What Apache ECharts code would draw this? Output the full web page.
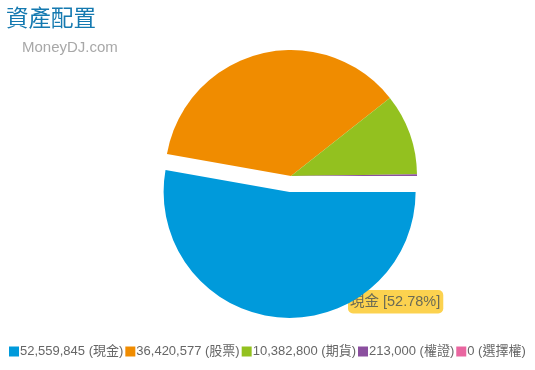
<!DOCTYPE html>
<html><head><meta charset="utf-8">
<script src="https://cdn.jsdelivr.net/npm/echarts@6/dist/echarts.min.js"></script>
<style>html,body{margin:0;padding:0;background:#fff}#c{width:535px;height:370px}</style>
</head><body><div id="c"></div>
<script>
var names = ['現金', '股票', '期貨', '權證', '選擇權'];
var values = [52559845, 36420577, 10382800, 213000, 0];
var colors = ['#009ADB', '#F08C00', '#93C11F', '#8B4F9F', '#E966A0'];

var total = values.reduce(function(a,b){return a+b;},0);
function fmt(n){return n.toString().replace(/\B(?=(\d{3})+(?!\d))/g, ',');}
var pct0 = (values[0]/total*100).toFixed(2);

var data = names.map(function(n,i){
  return {name: n, value: values[i], selected: i===0, itemStyle:{color: colors[i]}};
});

var chart = echarts.init(document.getElementById('c'), null, {renderer:'canvas'});
chart.setOption({
  animation: false,
  title: [
    {text: '資產配置', left: 1, top: 1, textStyle:{fontSize: 22.5, fontWeight:'normal', color:'#1479B0', fontFamily:'Noto Sans CJK TC'}},
    {text: 'MoneyDJ.com', left: 17, top: 35, textStyle:{fontSize: 15, fontWeight:'normal', color:'#A8A8A8', fontFamily:'Liberation Sans'}}
  ],
  legend: {
    left: 4, top: 340, width: 531, itemWidth: 10, itemHeight: 10, itemGap: 2,
    padding: [5, 0, 5, 5],
    icon: 'rect', selectedMode: false,
    textStyle: {fontSize: 13, color:'#666', fontFamily:'Liberation Sans, Noto Sans CJK TC', padding:[0,0,0,-4]},
    formatter: function(name){ var i = names.indexOf(name); return fmt(values[i]) + ' (' + name + ')'; },
    data: names
  },
  series: [{
    type: 'pie',
    center: [291, 176],
    radius: [0, 126],
    startAngle: 0,
    clockwise: true,
    selectedMode: 'single',
    selectedOffset: 16,
    minAngle: 0,
    avoidLabelOverlap: false,
    label: {show: false},
    labelLine: {show: false},
    emphasis: {disabled: true},
    itemStyle: {borderWidth: 0},
    data: data
  }],
  graphic: [{
    type: 'text',
    left: 348, top: 290,
    style: {
      text: names[0] + ' [' + pct0 + '%]',
      fontSize: 14.5, fontFamily: 'Liberation Sans, Noto Sans CJK TC',
      fill: '#6b6b55',
      backgroundColor: 'rgba(252,205,60,0.9)',
      borderRadius: 5,
      padding: [5, 3, 4, 2]
    }
  }]
});
</script></body></html>
